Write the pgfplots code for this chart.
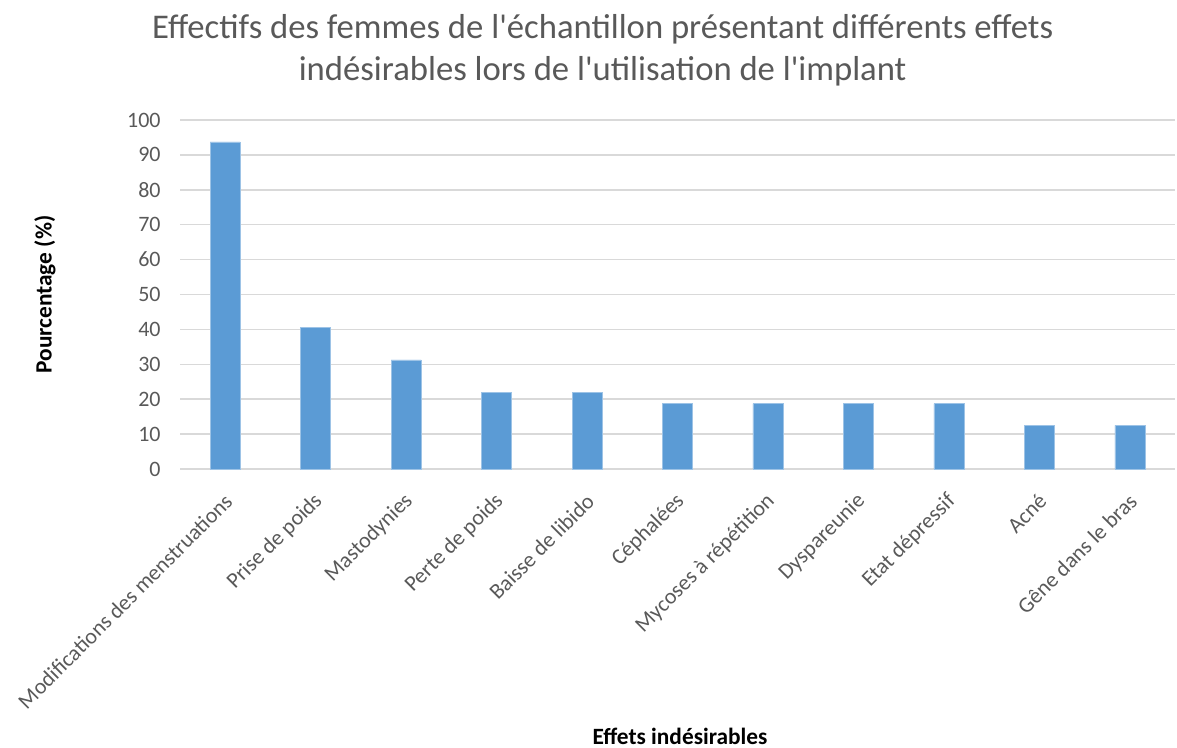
\documentclass[border=0pt]{standalone}
\usepackage{pgfplots}
\pgfplotsset{compat=1.18}
\usepackage{fontspec}
\setmainfont{Carlito}
\definecolor{barblue}{HTML}{5B9BD5}
\definecolor{gridgray}{HTML}{D9D9D9}
\definecolor{txtgray}{HTML}{595959}
\begin{document}
\begin{tikzpicture}
\useasboundingbox (0pt,0pt) rectangle (882.75pt,561pt);
\begin{axis}[
  at={(135pt,209.25pt)}, anchor=south west,
  scale only axis, width=746.25pt, height=261.75pt,
  xmin=-0.5, xmax=10.5, ymin=0, ymax=100,
  ybar, bar width=22.5pt,
  xtick={0,...,10},
  xticklabels={Modifications des menstruations,Prise de poids,Mastodynies,Perte de poids,Baisse de libido,Céphalées,Mycoses à répétition,Dyspareunie,Etat dépressif,Acné,Gêne dans le bras},
  x tick label style={rotate=45, anchor=east, font=\fontsize{16.5}{18}\selectfont, text=txtgray, xshift=-10pt, yshift=-17pt},
  ytick={0,10,...,100},
  y tick label style={font=\fontsize{16.5}{18}\selectfont, text=txtgray, xshift=-11pt},
  /pgf/number format/assume math mode=true,
  major tick length=0pt,
  ymajorgrids, grid style={gridgray, line width=1.1pt},
  axis x line*=bottom, axis y line*=left,
  x axis line style={gridgray, line width=1.1pt, -},
  y axis line style={draw=none},
  xlabel={\textbf{Effets indésirables}},
  xlabel style={at={(rel axis cs:0.5025,-0.765)}, anchor=center, font=\fontsize{17.5}{18}\selectfont, text=black},
  ylabel={\textbf{Pourcentage (\%)}},
  ylabel style={at={(rel axis cs:-0.1357,0.5)}, anchor=center, rotate=0, font=\fontsize{17.5}{18}\selectfont, text=black},
  clip=false,
]
\addplot[fill=barblue, draw=barblue!60!white, line width=0.4pt] coordinates {
(0,93.75) (1,40.625) (2,31.25) (3,21.875) (4,21.875) (5,18.75) (6,18.75) (7,18.75) (8,18.75) (9,12.5) (10,12.5)};
\end{axis}
\node[align=center, text=txtgray, font=\fontsize{26}{31.5}\selectfont] at (452pt,523pt) {Effectifs des femmes de l\textquotesingle échantillon présentant différents effets\\indésirables lors de l\textquotesingle utilisation de l\textquotesingle implant};
\end{tikzpicture}
\end{document}
